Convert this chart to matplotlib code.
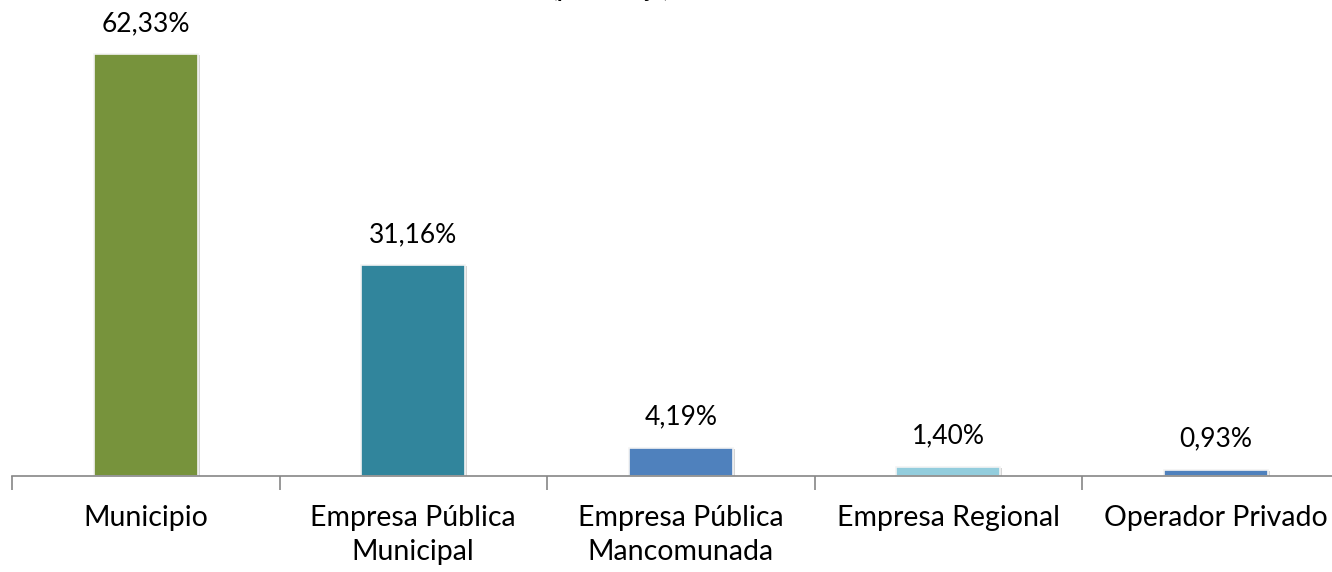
import matplotlib.pyplot as plt
import matplotlib.patheffects as pe
import numpy as np

categorias = ['Municipio', 'Empresa Pública\nMunicipal', 'Empresa Pública\nMancomunada',
              'Empresa Regional', 'Operador Privado']
valores = [62.33, 31.16, 4.19, 1.40, 0.93]
etiquetas = ['62,33%', '31,16%', '4,19%', '1,40%', '0,93%']
colores = ['#77933C', '#31859C', '#4F81BD', '#93CDDD', '#4F81BD']

plt.rcParams['font.family'] = ['Lato', 'DejaVu Sans']

fig = plt.figure(figsize=(13.32, 5.72), dpi=100)
# axes runs past the right edge, like the reference crop
ax = fig.add_axes([12/1332, 96/572, 1337.5/1332, 474/572])

x = np.arange(len(categorias))
bars = ax.bar(x, valores, width=0.39, color=colores, edgecolor='#f4f4f4', linewidth=1.2)
for b in bars:
    b.set_path_effects([pe.withSimplePatchShadow(offset=(1.5, -1.0), shadow_rgbFace='#888888', alpha=0.35)])

for xi, v, t in zip(x, valores, etiquetas):
    ax.annotate(t, (xi, v), xytext=(0, 13), textcoords='offset points',
                ha='center', va='bottom', fontsize=19)

ax.set_xlim(-0.5, len(categorias) - 0.5)
ax.set_ylim(0, 70)
ax.set_xticks(x)
ax.set_xticklabels(categorias, fontsize=20.5, linespacing=1.35)
ax.set_xticks(np.arange(len(categorias) + 1) - 0.5, minor=True)
ax.tick_params(axis='x', which='major', length=0, pad=21)
ax.tick_params(axis='x', which='minor', length=10, color='#868686', width=1.2)
ax.set_yticks([])
for s in ['top', 'right', 'left']:
    ax.spines[s].set_visible(False)
ax.spines['bottom'].set_color('#868686')
ax.spines['bottom'].set_linewidth(1.2)

# title is cut off at the top of the picture
fig.text(611/1332, 1 + 3/572, '(porcentaje)', ha='center', va='baseline',
         fontsize=16, fontweight='bold')

fig.savefig('out.png', dpi=100)
